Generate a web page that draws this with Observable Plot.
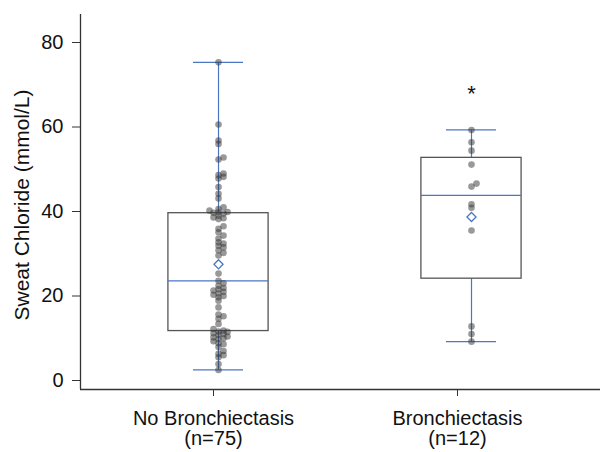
<!DOCTYPE html>
<html>
<head>
<meta charset="utf-8">
<script src="https://cdn.jsdelivr.net/npm/d3@7"></script>
<script src="https://cdn.jsdelivr.net/npm/@observablehq/plot@0.6"></script>
<style>
  html, body { margin: 0; padding: 0; background: #fff; }
  #chart { width: 600px; height: 452px; }
</style>
</head>
<body>
<div id="chart"></div>
<script>
// ---- Data ----
const groups = ["No Bronchiectasis", "Bronchiectasis"];
const groupN = ["(n=75)", "(n=12)"];

const noBronchiectasis = [
  75.3, 60.6, 56.8, 56.0, 52.8, 52.3, 49.0, 48.6, 48.2, 47.8,
  45.8, 44.2, 43.1, 41.0, 40.6, 40.2, 39.9, 39.8, 39.7, 39.5,
  39.0, 38.6, 38.4, 38.2, 36.5, 35.9, 35.1, 34.3, 33.6, 32.7,
  32.4, 31.9, 31.5, 30.8, 30.2, 29.6, 25.3, 23.6, 23.0, 22.4,
  21.9, 21.6, 21.3, 21.0, 20.6, 20.3, 20.0, 19.7, 18.9, 17.3,
  15.6, 15.2, 14.6, 13.4, 12.2, 11.8, 11.6, 11.5, 11.2, 11.0,
  10.8, 10.4, 10.2, 10.0, 9.8, 9.3, 8.8, 8.6, 7.9, 7.0,
  6.3, 6.0, 5.5, 3.9, 2.5
];
const bronchiectasis = [59.3, 56.4, 54.4, 51.1, 46.6, 45.9, 41.7, 40.9, 35.5, 12.8, 11.0, 9.2];

const q1 = [11.7, 24.1];
const median = [23.6, 43.8];
const q3 = [39.6, 52.7];
const whiskerLow = [2.5, 9.2];
const whiskerHigh = [75.3, 59.3];
const mean = [27.5, 38.7];
const significance = ["", "*"];

const yTicks = [0, 20, 40, 60, 80];
const yLabel = "Sweat Chloride (mmol/L)";

// ---- Layout ----
const W = 600, H = 452;
const mL = 80, mR = 0, mT = 14, mB = 63;
const xDomain = [-0.5455, 1.5099];
const yDomain = [-2.13, 86.63];
const boxHalf = 0.198, capHalf = 0.099;
const blue = "#4a76c4";

const xPx = d3.scaleLinear(xDomain, [mL, W - mR]);
const yPx = d3.scaleLinear(yDomain, [H - mB, mT]);

const summary = groups.map((g, i) => ({
  i, g, q1: q1[i], median: median[i], q3: q3[i],
  lo: whiskerLow[i], hi: whiskerHigh[i], mean: mean[i], sig: significance[i]
}));

// simple beeswarm-like horizontal offsets (overlap allowed)
function swarm(values, gi) {
  const placed = [];
  const out = [];
  const offsets = [0, 5, -5, 9, -9];
  const minDist = 3.2;
  [...values].sort((a, b) => a - b).forEach(v => {
    const py = yPx(v);
    let chosen = offsets[0];
    for (const o of offsets) {
      const ok = placed.every(p => Math.hypot(p.ox - o, p.py - py) >= minDist);
      if (ok) { chosen = o; break; }
    }
    placed.push({ox: chosen, py});
    const cx = xPx(gi) + chosen;
    out.push({g: groups[gi], value: v, x: xPx.invert(cx)});
  });
  return out;
}
const points = [...swarm(noBronchiectasis, 0), ...swarm(bronchiectasis, 1)];

const font = "'Liberation Sans', Arial, Helvetica, sans-serif";
const fs = 20;

const chart = Plot.plot({
  width: W, height: H,
  marginLeft: mL, marginRight: mR, marginTop: mT, marginBottom: mB,
  style: {fontFamily: font, fontSize: fs + "px", color: "#111", background: "#fff"},
  x: {domain: xDomain, axis: null},
  y: {domain: yDomain, axis: null},
  marks: [
    // whiskers
    Plot.ruleX(summary, {x: "i", y1: "lo", y2: "hi", stroke: blue, strokeWidth: 1.2}),
    Plot.ruleY(summary, {y: "hi", x1: d => d.i - capHalf, x2: d => d.i + capHalf, stroke: blue, strokeWidth: 1.2}),
    Plot.ruleY(summary, {y: "lo", x1: d => d.i - capHalf, x2: d => d.i + capHalf, stroke: blue, strokeWidth: 1.2}),
    // box
    Plot.rect(summary, {x1: d => d.i - boxHalf, x2: d => d.i + boxHalf, y1: "q1", y2: "q3", fill: "white", stroke: "#555", strokeWidth: 1.3}),
    Plot.ruleY(summary, {y: "median", x1: d => d.i - boxHalf, x2: d => d.i + boxHalf, stroke: blue, strokeWidth: 1.2}),
    // points
    Plot.dot(points, {x: "x", y: "value", r: 3.3, fill: "#333", fillOpacity: 0.5, stroke: "none"}),
    // mean
    Plot.dot(summary, {x: "i", y: "mean", symbol: "diamond2", r: 4.1, stroke: blue, fill: "white", strokeWidth: 1.3}),
    // significance
    Plot.text(summary, {x: "i", y: "hi", text: "sig", dy: -36, fontSize: 22, fill: "#111"}),
    // axes lines
    Plot.ruleY([yDomain[0]], {stroke: "#333", strokeWidth: 1.3}),
    Plot.ruleX([xDomain[0]], {stroke: "#333", strokeWidth: 1.3}),
    Plot.axisY({ticks: yTicks, tickSize: 8, tickPadding: 9, fontSize: fs, label: null, stroke: "#333"}),
    Plot.axisX({ticks: [0], tickFormat: i => groups[i] + "\n" + groupN[i], dx: -5, tickSize: 7, tickPadding: 14, fontSize: fs, lineHeight: 1.0, label: null, stroke: "#333"}),
    Plot.axisX({ticks: [1], tickFormat: i => groups[i] + "\n" + groupN[i], dx: -14, tickSize: 7, tickPadding: 14, fontSize: fs, lineHeight: 1.0, label: null, stroke: "#333"}),
    Plot.text([yLabel], {frameAnchor: "left", rotate: -90, dx: -58, dy: 3, fontSize: 21, textAnchor: "middle", lineAnchor: "middle", fill: "#111"})
  ]
});
document.getElementById("chart").appendChild(chart);
</script>
</body>
</html>
